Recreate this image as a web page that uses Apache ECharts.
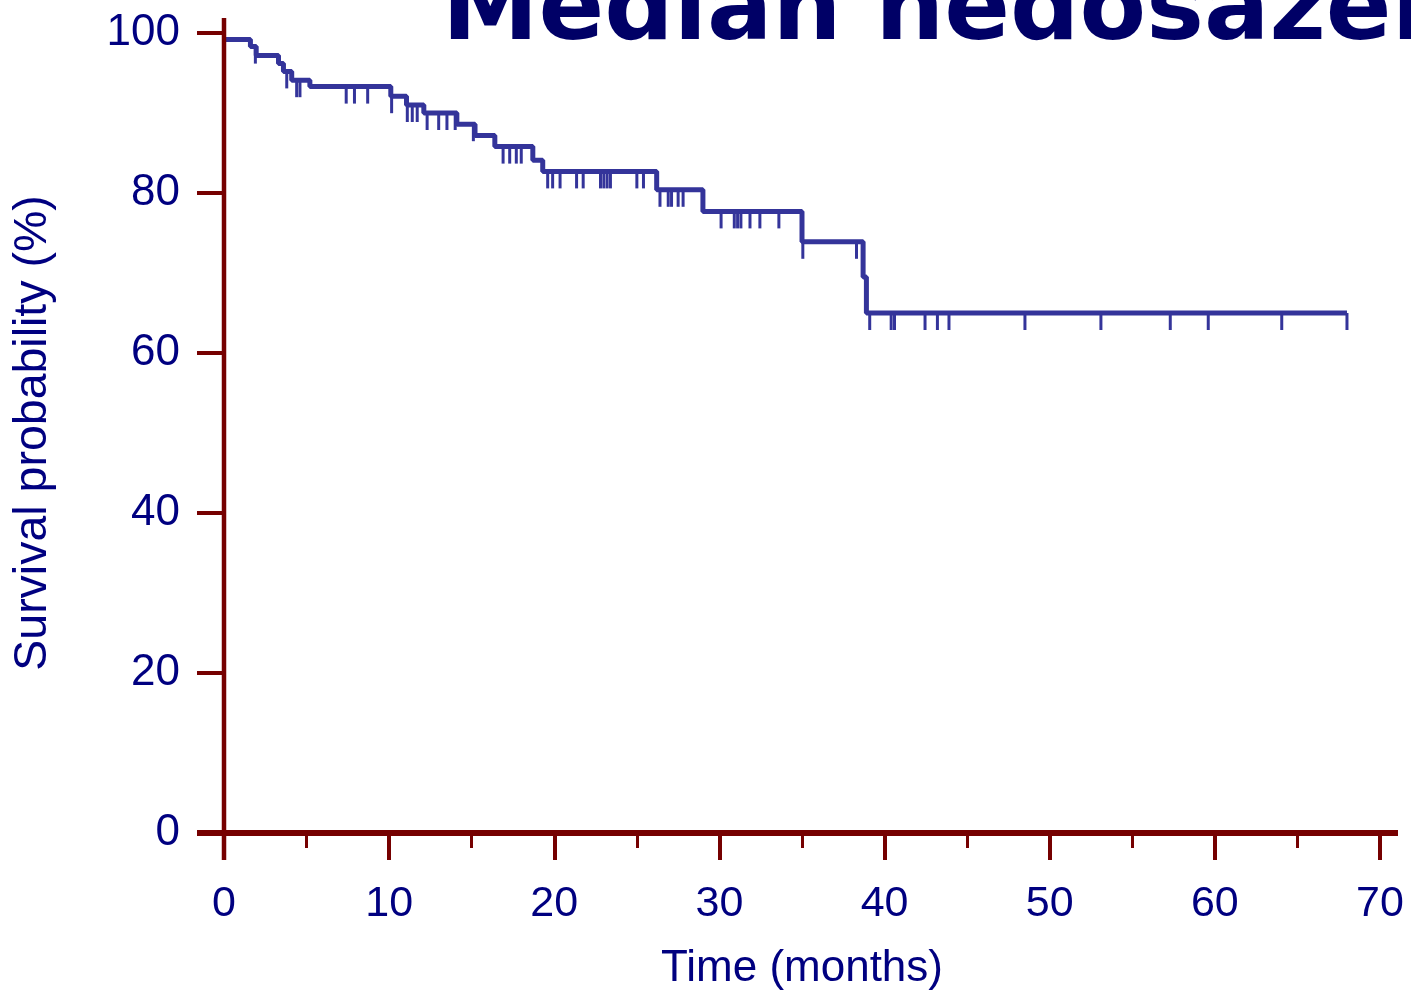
<!DOCTYPE html>
<html>
<head>
<meta charset="utf-8">
<script src="https://cdn.jsdelivr.net/npm/echarts@6/dist/echarts.min.js"></script>
<style>
  html, body { margin: 0; padding: 0; background: #ffffff; }
  #chart { width: 1411px; height: 994px; }
</style>
</head>
<body>
<div id="chart"></div>
<script>
// Kaplan-Meier estimate: event times (months) and survival (%) after each event
const eventTimes = [0, 1.6, 1.95, 3.3, 3.6, 4.1, 5.2, 10.1, 11.05, 12.1, 14.1, 15.2, 16.4, 18.7, 19.3, 26.2, 29.0, 35.0, 38.7, 38.9];
const survival   = [99.2, 98.3, 97.2, 96.2, 95.2, 94.1, 93.3, 92.1, 91.0, 90.0, 88.6, 87.2, 85.8, 84.1, 82.7, 80.4, 77.7, 73.9, 69.5, 65.0];
const lastFollowUp = 68.0;

// Censored observations (months)
const censorTimes = [1.9, 3.8, 4.4, 4.6, 7.4, 7.9, 8.7, 10.15, 11.1, 11.4, 11.7, 12.3, 13.0, 13.5, 14.0, 15.1,
  16.9, 17.3, 17.7, 18.0, 19.6, 19.9, 20.35, 21.35, 21.75, 22.8, 23.0, 23.2, 23.4, 25.0, 25.4,
  26.4, 26.9, 27.1, 27.5, 27.8, 30.1, 30.9, 31.1, 31.3, 31.85, 32.45, 33.6, 35.05, 38.3,
  39.1, 40.4, 40.6, 42.45, 43.2, 43.9, 48.5, 53.1, 57.3, 59.6, 64.05, 68.0];

// Axis tick values
const xTicks = [0, 10, 20, 30, 40, 50, 60, 70];
const yTicks = [0, 20, 40, 60, 80, 100];

const titleText = 'Median nedosažen';
const xName = 'Time (months)';
const yName = 'Survival probability (%)';

const curveColor = '#34349a';
const axisColor = '#760000';
const textColor = '#000080';

function survivalAt(t) {
  let s = survival[0];
  for (let i = 0; i < eventTimes.length; i++) {
    if (eventTimes[i] <= t) s = survival[i];
  }
  return s;
}

const curveData = eventTimes.map((t, i) => [t, survival[i]]);
curveData.push([lastFollowUp, survival[survival.length - 1]]);
const censorData = censorTimes.map(t => [t, survivalAt(t)]);

const chart = echarts.init(document.getElementById('chart'), null, { renderer: 'canvas' });

const option = {
  backgroundColor: '#ffffff',
  animation: false,
  grid: { left: 224, right: 31, top: 33, bottom: 161, containLabel: false, outerBoundsMode: 'none' },
  xAxis: {
    type: 'value',
    min: xTicks[0],
    max: xTicks[xTicks.length - 1],
    interval: xTicks[1] - xTicks[0],
    name: xName,
    nameLocation: 'middle',
    nameGap: 114,
    nameTextStyle: { color: textColor, fontSize: 44, fontFamily: 'Liberation Sans' },
    axisLine: { show: false },
    axisTick: { show: true, length: 27, lineStyle: { color: axisColor, width: 4 } },
    minorTick: { show: true, splitNumber: 2, length: 15, lineStyle: { color: axisColor, width: 3 } },
    splitLine: { show: false },
    minorSplitLine: { show: false },
    axisLabel: { color: textColor, fontSize: 43, fontFamily: 'Liberation Sans', margin: 50 }
  },
  yAxis: {
    type: 'value',
    min: yTicks[0],
    max: yTicks[yTicks.length - 1],
    interval: yTicks[1] - yTicks[0],
    name: yName,
    nameLocation: 'middle',
    nameGap: 167,
    nameRotate: 90,
    nameTextStyle: { color: textColor, fontSize: 46.5, fontFamily: 'Liberation Sans' },
    axisLine: { show: false },
    axisTick: { show: true, length: 27, lineStyle: { color: axisColor, width: 4 } },
    splitLine: { show: false },
    axisLabel: { color: textColor, fontSize: 44, fontFamily: 'Liberation Sans', margin: 44 }
  },
  series: [
    {
      type: 'line',
      step: 'end',
      data: curveData,
      showSymbol: false,
      symbol: 'none',
      lineStyle: { color: curveColor, width: 5 },
      z: 3
    },
    {
      type: 'custom',
      data: censorData,
      renderItem: function (params, api) {
        const p = api.coord([api.value(0), api.value(1)]);
        return {
          type: 'line',
          shape: { x1: p[0], y1: p[1], x2: p[0], y2: p[1] + 17 },
          style: { stroke: curveColor, lineWidth: 3 }
        };
      },
      z: 3
    }
  ]
};

chart.setOption(option);

// Axis lines overshoot the plotting area, as in the classic survival plot style
const origin = chart.convertToPixel({ gridIndex: 0 }, [xTicks[0], yTicks[0]]);
const farCorner = chart.convertToPixel({ gridIndex: 0 }, [xTicks[xTicks.length - 1], yTicks[yTicks.length - 1]]);

chart.setOption({
  graphic: [
    {
      type: 'line',
      z: 10,
      shape: { x1: origin[0] - 27, y1: origin[1], x2: farCorner[0] + 18, y2: origin[1] },
      style: { stroke: axisColor, lineWidth: 6 }
    },
    {
      type: 'line',
      z: 10,
      shape: { x1: origin[0], y1: farCorner[1] - 15, x2: origin[0], y2: origin[1] + 27 },
      style: { stroke: axisColor, lineWidth: 4.5 }
    },
    {
      type: 'text',
      z: 20,
      x: 442,
      y: 14,
      style: {
        text: titleText,
        fill: '#000066',
        font: 'bold 97px "DejaVu Sans"',
        verticalAlign: 'middle',
        align: 'left'
      }
    }
  ]
});
</script>
</body>
</html>
